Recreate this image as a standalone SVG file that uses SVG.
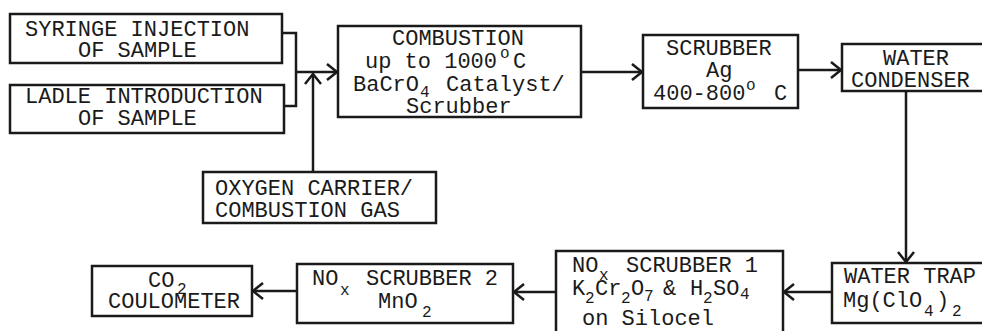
<svg xmlns="http://www.w3.org/2000/svg" width="982" height="331" viewBox="0 0 982 331">
<style>
.box{fill:#fff;stroke:#1a1a1a;stroke-width:2.5}
.t{font-family:"Liberation Mono","DejaVu Sans Mono",monospace;font-size:22px;fill:#1a1a1a}
.s{font-size:16px}
.c{fill:none;stroke:#1a1a1a;stroke-width:2.5}
</style>
<defs>
<marker id="ah" markerUnits="userSpaceOnUse" markerWidth="24" markerHeight="24" viewBox="-12 -12 24 24" refX="0" refY="0" orient="auto">
<path d="M-10,-8 L0,0 L-10,8" fill="none" stroke="#1a1a1a" stroke-width="2.5"/>
</marker>
</defs>
<rect width="982" height="331" fill="#fff"/>
<g id="connectors">
<path class="c" d="M282,33 H296 V106 H284"/>
<path class="c" d="M296,72 H337" marker-end="url(#ah)"/>
<path class="c" d="M313,172 V74" marker-end="url(#ah)"/>
<path class="c" d="M581,72 H642" marker-end="url(#ah)"/>
<path class="c" d="M798,70 H841" marker-end="url(#ah)"/>
<path class="c" d="M906,91 V262" marker-end="url(#ah)"/>
<path class="c" d="M832,292 H784" marker-end="url(#ah)"/>
<path class="c" d="M556,292 H514" marker-end="url(#ah)"/>
<path class="c" d="M297,291 H253" marker-end="url(#ah)"/>
</g>
<g id="syringe">
<rect class="box" x="10" y="14" width="272" height="49"/>
<text class="t" x="25" y="36">SYRINGE INJECTION</text>
<text class="t" x="78" y="57">OF SAMPLE</text>
</g>
<g id="ladle">
<rect class="box" x="10" y="85" width="274" height="48"/>
<text class="t" x="25" y="103">LADLE INTRODUCTION</text>
<text class="t" x="78" y="125">OF SAMPLE</text>
</g>
<g id="oxygen">
<rect class="box" x="203" y="172" width="233" height="51"/>
<text class="t" x="215" y="195">OXYGEN CARRIER/</text>
<text class="t" x="215" y="217">COMBUSTION GAS</text>
</g>
<g id="combustion">
<rect class="box" x="338" y="26" width="243" height="91"/>
<text class="t" x="392" y="45">COMBUSTION</text>
<text class="t" x="365" y="68">up to 1000</text>
<text class="t s" x="500" y="58">o</text>
<text class="t" x="513" y="68">C</text>
<text class="t" x="353" y="91">BaCrO</text>
<text class="t s" x="420" y="97">4</text>
<text class="t" x="446" y="91">Catalyst/</text>
<text class="t" x="406" y="113">Scrubber</text>
</g>
<g id="scrubber-ag">
<rect class="box" x="643" y="35" width="155" height="73"/>
<text class="t" x="666" y="55">SCRUBBER</text>
<text class="t" x="706" y="77">Ag</text>
<text class="t" x="653" y="100">400-800</text>
<text class="t s" x="746" y="90">o</text>
<text class="t" x="774" y="100">C</text>
</g>
<g id="water-condenser">
<rect class="box" x="842" y="44" width="150" height="47"/>
<text class="t" x="883" y="65">WATER</text>
<text class="t" x="851" y="87">CONDENSER</text>
</g>
<g id="water-trap">
<rect class="box" x="832" y="263" width="160" height="60"/>
<text class="t" x="844" y="283">WATER TRAP</text>
<text class="t" x="843" y="307">Mg(ClO</text>
<text class="t s" x="924" y="316">4</text>
<text class="t" x="936" y="307">)</text>
<text class="t s" x="952" y="316">2</text>
</g>
<g id="nox-scrubber-1">
<rect class="box" x="556" y="251" width="227" height="90"/>
<text class="t" x="572" y="272">NO</text>
<text class="t s" x="599" y="280">x</text>
<text class="t" x="626" y="272">SCRUBBER 1</text>
<text class="t" x="572" y="295">K</text>
<text class="t s" x="585" y="303">2</text>
<text class="t" x="595" y="295">Cr</text>
<text class="t s" x="621" y="303">2</text>
<text class="t" x="631" y="295">O</text>
<text class="t s" x="644" y="301">7</text>
<text class="t" x="663" y="295">&amp;</text>
<text class="t" x="690" y="295">H</text>
<text class="t s" x="703" y="303">2</text>
<text class="t" x="713" y="295">SO</text>
<text class="t s" x="740" y="299">4</text>
<text class="t" x="582" y="325">on Silocel</text>
</g>
<g id="nox-scrubber-2">
<rect class="box" x="297" y="264" width="216" height="59"/>
<text class="t" x="312" y="285">NO</text>
<text class="t s" x="340" y="295">x</text>
<text class="t" x="366" y="285">SCRUBBER 2</text>
<text class="t" x="378" y="308">MnO</text>
<text class="t s" x="422" y="317">2</text>
</g>
<g id="co2-coulometer">
<rect class="box" x="92" y="266" width="160" height="50"/>
<text class="t" x="148" y="287">CO</text>
<text class="t s" x="177" y="294">2</text>
<text class="t" x="108" y="308">COULOMETER</text>
</g>
</svg>
